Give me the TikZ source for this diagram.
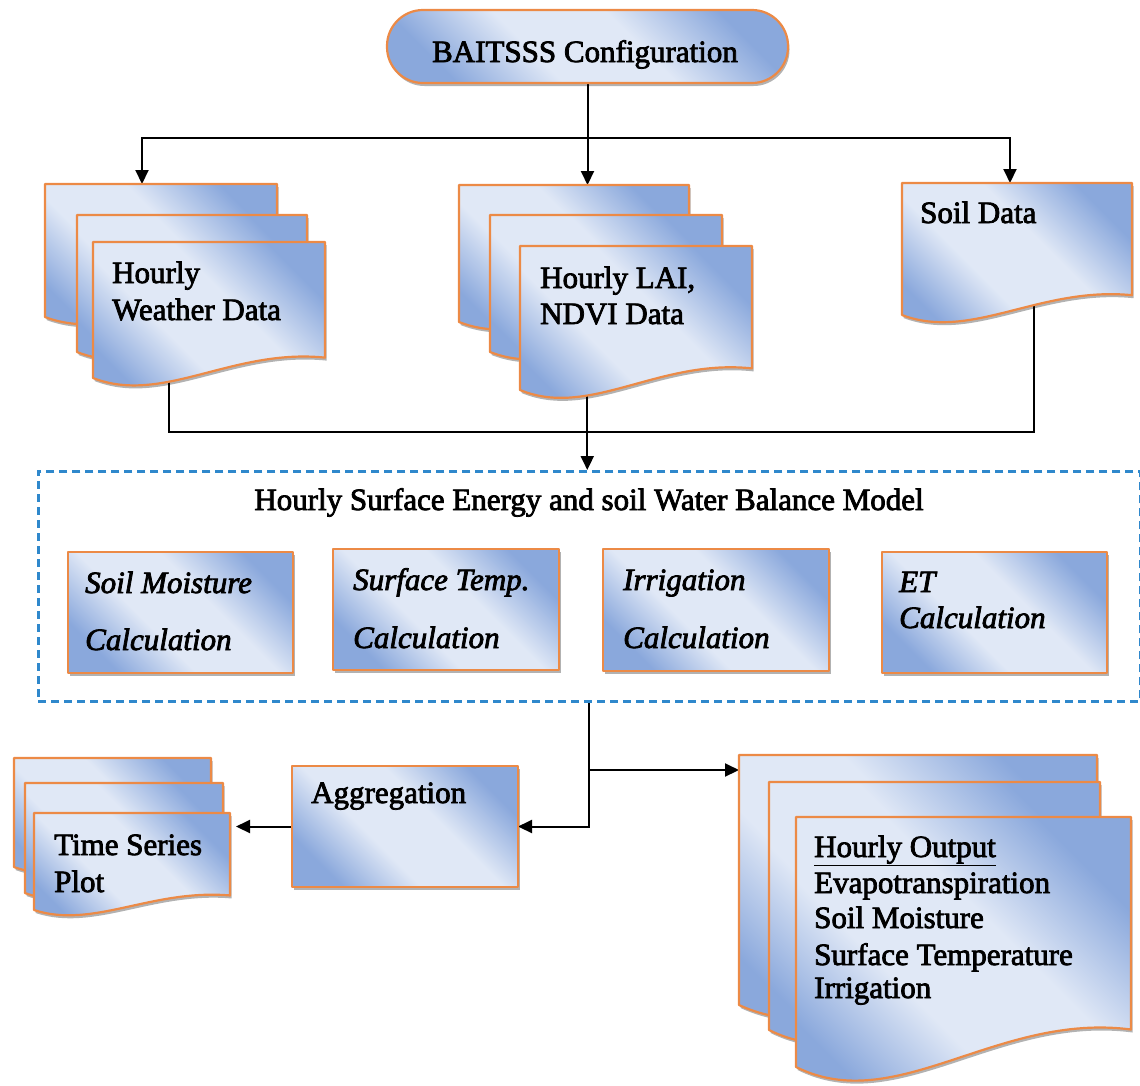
\documentclass[tikz,border=0pt]{standalone}
\usepackage{fontspec}
\setmainfont{Liberation Serif}[FakeBold=2.5]
\usetikzlibrary{arrows.meta,calc,shadows,backgrounds}

\definecolor{bdark}{HTML}{8AA8DC}
\definecolor{blight}{HTML}{E0E8F6}
\definecolor{bord}{HTML}{EC8A46}
\definecolor{dashblue}{HTML}{2F88CC}

% diagonal sheen: blue at two opposite corners, pale band across the middle
\pgfdeclareverticalshading{sheen}{100bp}{%
  color(0bp)=(bdark); color(25bp)=(bdark); color(41bp)=(blight);
  color(58bp)=(blight); color(75bp)=(bdark); color(100bp)=(bdark)}

\tikzset{
  fillpaint/.style={shading=sheen, shading angle=-45, draw=bord, line width=2.2pt,
    line join=round,
    drop shadow={shadow xshift=1.5pt, shadow yshift=-3pt, opacity=0.3, fill=black}},
  docanchor/.style={rectangle, inner sep=0pt, outer sep=0pt, anchor=north west},
  procbox/.style={rectangle, fillpaint, inner sep=0pt, outer sep=0pt, anchor=north west},
  txt/.style={anchor=base west, inner sep=0pt, font=\fontsize{31}{36}\selectfont},
  itxt/.style={txt, font=\fontsize{31}{36}\selectfont\itshape},
  conn/.style={draw=black, line width=2pt},
  arr/.style={conn, -{Triangle[length=14pt,width=13pt]}},
}

% document sheet: straight top, wavy bottom; #1 name, #2 top-left, #3 width, #4 height
\newcommand\docsheet[4]{%
  \node[docanchor, minimum width=#3, minimum height=#4] (#1) at #2 {};
  \path[fillpaint] let \p1=(#1.north west), \p2=(#1.south east),
      \n1={\x2-\x1}, \n2={\y1-\y2} in
    (\x1,\y1) -- (\x2,\y1) -- (\x2,{\y2+0.15*\n2})
    .. controls ({\x1+0.6*\n1},{\y2+0.22*\n2}) and ({\x1+0.3*\n1},{\y2-0.2*\n2}) ..
    (\x1,\y2) -- cycle;}

\begin{document}
\begin{tikzpicture}[x=1pt,y=1pt]
\useasboundingbox (0,0) rectangle (1140,-1085);

% start terminal
\node[fillpaint, rounded corners=36pt, minimum width=401, minimum height=73,
      inner sep=0pt] (cfg) at (587.5,-46.5) {};
\node[txt, anchor=base] (cfgtxt) at (585,-62) {BAITSSS Configuration};

% input data
\docsheet{wx1}{(45,-184)}{232}{133}
\docsheet{wx2}{(77,-215)}{230}{137}
\docsheet{wx3}{(93,-242)}{232}{136}
\node[txt] (wxa) at (112,-283) {Hourly};
\node[txt] (wxb) at (112,-320) {Weather Data};

\docsheet{lai1}{(459,-185)}{230}{137}
\docsheet{lai2}{(490,-215)}{232}{137}
\docsheet{lai3}{(520,-246)}{232}{144}
\node[txt] (laia) at (540,-288) {Hourly LAI,};
\node[txt] (laib) at (540,-324) {NDVI Data};

\docsheet{soil}{(902,-183)}{230}{132}
\node[txt] (soila) at (920,-223) {Soil Data};

% model frame
\node[draw=dashblue, line width=2.5pt, dash pattern=on 8pt off 5pt, rectangle,
      inner sep=0pt, minimum width=1102, minimum height=230, anchor=north west]
      (model) at (37,-470) {};
\node[txt, anchor=base] (mtitle) at (589,-510)
      {Hourly Surface Energy and soil Water Balance Model};

\node[procbox, minimum width=225, minimum height=121] (pm) at (68,-552) {};
\node[itxt] (pma) at (85,-593) {Soil Moisture};
\node[itxt] (pmb) at (85,-650) {Calculation};

\node[procbox, minimum width=226, minimum height=121] (ps) at (333,-549) {};
\node[itxt] (psa) at (353,-590) {Surface Temp.};
\node[itxt] (psb) at (353,-648) {Calculation};

\node[procbox, minimum width=226, minimum height=122] (pi) at (603,-549) {};
\node[itxt] (pia) at (623,-590) {Irrigation};
\node[itxt] (pib) at (623,-648) {Calculation};

\node[procbox, minimum width=225, minimum height=121] (pe) at (882,-552) {};
\node[itxt] (pea) at (899,-592) {ET};
\node[itxt] (peb) at (899,-628) {Calculation};

% outputs
\node[procbox, minimum width=226, minimum height=121] (agg) at (292,-766) {};
\node[txt] (agga) at (311,-803) {Aggregation};

\docsheet{ts1}{(14,-758)}{197}{109}
\docsheet{ts2}{(25,-783)}{198}{110}
\docsheet{ts3}{(34,-813)}{196}{97}
\node[txt] (tsa) at (54,-855) {Time Series};
\node[txt] (tsb) at (54,-892) {Plot};

\docsheet{out1}{(739,-755)}{358}{250}
\docsheet{out2}{(769,-782)}{331}{248}
\docsheet{out3}{(796,-817)}{335}{250}
\node[txt] (outa) at (814,-857) {\underline{Hourly Output}};
\node[txt] (outb) at (814,-893) {Evapotranspiration};
\node[txt] (outc) at (814,-928) {Soil Moisture};
\node[txt] (outd) at (814,-965) {Surface Temperature};
\node[txt] (oute) at (814,-998) {Irrigation};

% connectors
\coordinate (jtop) at ($(cfg.south)+(0,-54)$);
\coordinate (jmid) at (587,-432);
\coordinate (wxin) at ($(wx1.north west)+(97,0)$);
\coordinate (soilin) at ($(soil.north west)+(108,0)$);
\coordinate (wxout) at ($(wx3.south west)!0.328!(wx3.south east)+(0,10)$);
\coordinate (laiout) at ($(lai3.south west)!0.29!(lai3.south east)+(0,10)$);
\coordinate (soilout) at ($(soil.south west)!0.574!(soil.south east)+(0,20)$);
\coordinate (outin) at ($(out1.north west)+(0,-15)$);
\coordinate (tsin) at ($(ts3.north east)+(6,0)$);

\begin{scope}[on background layer]
  \draw[arr] (cfg.south) -- (jtop) -| (wxin);
  \draw[arr] (cfg.south) -- (cfg.south |- lai1.north);
  \draw[arr] (cfg.south) -- (jtop) -| (soilin);
  \draw[conn] (wxout) -- (wxout |- jmid) -- (soilout |- jmid) -- (soilout);
  \draw[arr] (laiout) -- (laiout |- model.north);
  \draw[arr] (model.south) |- (agg.east);
  \draw[arr] (model.south) |- (outin);
  \draw[arr] (agg.west) -- (tsin |- agg.west);
\end{scope}
\end{tikzpicture}
\end{document}
